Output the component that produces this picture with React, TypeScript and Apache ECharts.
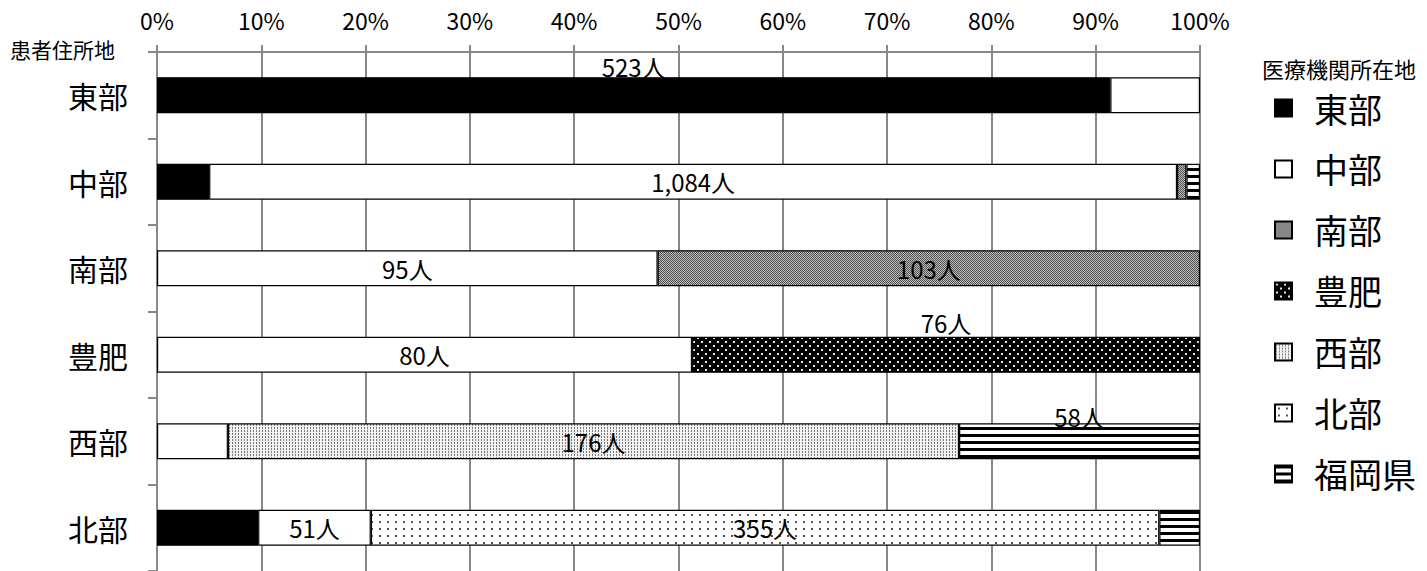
import React, { useEffect, useRef } from "react";
import * as echarts from "echarts";

// Patient residence (rows, top to bottom)
const residenceAreas = ["東部", "中部", "南部", "豊肥", "西部", "北部"];
// Medical institution location (stack segments)
const facilityAreas = ["東部", "中部", "南部", "豊肥", "西部", "北部", "福岡県"];

// Share (%) of patients per facility area, one array per facility area, aligned with residenceAreas
const shareToubu = [91.4, 5.0, null, null, null, 9.7];
const shareChubu = [8.6, 92.8, 48.0, 51.3, 6.8, 10.8];
const shareNanbu = [null, 0.9, 52.0, null, null, null];
const shareHohi = [null, null, null, 48.7, null, null];
const shareSeibu = [null, null, null, null, 70.1, null];
const shareHokubu = [null, null, null, null, null, 75.6];
const shareFukuoka = [null, 1.3, null, null, 23.1, 3.9];

// Patient count labels shown on segments
const countToubu = ["523人", "", "", "", "", ""];
const countChubu = ["", "1,084人", "95人", "80人", "", "51人"];
const countNanbu = ["", "", "103人", "", "", ""];
const countHohi = ["", "", "", "76人", "", ""];
const countSeibu = ["", "", "", "", "176人", ""];
const countHokubu = ["", "", "", "", "", "355人"];
const countFukuoka = ["", "", "", "", "58人", ""];

const shares = [shareToubu, shareChubu, shareNanbu, shareHohi, shareSeibu, shareHokubu, shareFukuoka];
const counts = [countToubu, countChubu, countNanbu, countHohi, countSeibu, countHokubu, countFukuoka];

// label placement (style): segments whose label sits above the bar
const labelAbove: Record<string, number> = { "0|0": -1, "3|3": 2, "6|4": -5 };

const FONT = "'Noto Sans CJK JP', 'Noto Sans', sans-serif";

function tile(w: number, h: number, draw: (ctx: CanvasRenderingContext2D) => void) {
  const c = document.createElement("canvas");
  c.width = w;
  c.height = h;
  const ctx = c.getContext("2d")!;
  draw(ctx);
  return { image: c, repeat: "repeat", imageWidth: w, imageHeight: h } as any;
}

function makeFills() {
  const black = "#000000";
  const white = "#ffffff";
  const checker = tile(2, 2, (ctx) => {
    ctx.fillStyle = "#bdbdbd";
    ctx.fillRect(0, 0, 2, 2);
    ctx.fillStyle = "#505050";
    ctx.fillRect(0, 0, 1, 1);
    ctx.fillRect(1, 1, 1, 1);
  });
  const blackDots = tile(8, 8, (ctx) => {
    ctx.fillStyle = "#000";
    ctx.fillRect(0, 0, 8, 8);
    ctx.fillStyle = "#e6e6e6";
    ctx.fillRect(1, 1, 2, 2);
    ctx.fillRect(5, 5, 2, 2);
  });
  const denseDots = tile(3, 3, (ctx) => {
    ctx.fillStyle = "#f2f2f2";
    ctx.fillRect(0, 0, 3, 3);
    ctx.fillStyle = "#7a7a7a";
    ctx.fillRect(1, 1, 1, 2);
  });
  const sparseDots = tile(8, 7, (ctx) => {
    ctx.fillStyle = "#fff";
    ctx.fillRect(0, 0, 8, 7);
    ctx.fillStyle = "#555";
    ctx.fillRect(3, 3, 2, 2);
  });
  const stripes = tile(4, 7, (ctx) => {
    ctx.fillStyle = "#fff";
    ctx.fillRect(0, 0, 4, 7);
    ctx.fillStyle = "#000";
    ctx.fillRect(0, 0, 4, 3);
  });
  return [black, white, checker, blackDots, denseDots, sparseDots, stripes];
}

export default function App() {
  const ref = useRef<HTMLDivElement>(null);

  useEffect(() => {
    if (!ref.current) return;
    const chart = echarts.init(ref.current, undefined, { renderer: "svg" });
    const fills = makeFills();

    const series = facilityAreas.map((name, si) => ({
      name,
      type: "bar",
      stack: "total",
      barWidth: 36,
      itemStyle: { color: fills[si], borderColor: "#000", borderWidth: 1.2 },
      data: shares[si].map((v, ri) => {
        const txt = counts[si][ri];
        const key = `${si}|${ri}`;
        const above = key in labelAbove;
        return {
          value: v === null ? "-" : v,
          label: {
            show: !!txt && v !== null,
            formatter: txt,
            position: above ? "top" : "inside",
            distance: above ? labelAbove[key] : 5,
            color: "#000",
            fontSize: 24,
            fontFamily: FONT,
          },
        };
      }),
    }));

    chart.setOption({
      animation: false,
      backgroundColor: "#fff",
      grid: { left: 157, right: 227, top: 52, bottom: 0, containLabel: false },
      xAxis: {
        type: "value",
        position: "top",
        min: 0,
        max: 100,
        interval: 10,
        axisLabel: {
          formatter: "{value}%",
          fontSize: 23,
          color: "#000",
          margin: 21,
          fontFamily: FONT,
        },
        axisLine: { show: true, lineStyle: { color: "#888", width: 2 } },
        axisTick: { show: true, length: 7, lineStyle: { color: "#888", width: 2 } },
        splitLine: { show: true, lineStyle: { color: "#888", width: 2 } },
      },
      yAxis: {
        type: "category",
        inverse: true,
        data: residenceAreas,
        axisLabel: { fontSize: 30, color: "#000", margin: 29, fontFamily: FONT },
        axisLine: { show: true, lineStyle: { color: "#888", width: 2 } },
        axisTick: { show: true, length: 9, lineStyle: { color: "#888", width: 2 } },
        splitLine: { show: false },
      },
      legend: {
        orient: "vertical",
        left: 1269,
        top: 86,
        itemWidth: 17,
        itemHeight: 17,
        itemGap: 27,
        icon: "rect",
        data: facilityAreas,
        textStyle: {
          fontSize: 34,
          color: "#000",
          fontFamily: FONT,
          padding: [0, 0, 0, 17],
        },
      },
      graphic: [
        {
          type: "text",
          left: 10,
          top: 38,
          style: { text: "患者住所地", fontSize: 21, fill: "#000", fontFamily: FONT },
        },
        {
          type: "text",
          left: 1262,
          top: 57,
          style: { text: "医療機関所在地", fontSize: 22, fill: "#000", fontFamily: FONT },
        },
      ],
      series,
    });

    return () => chart.dispose();
  }, []);

  return (
    <div
      ref={ref}
      style={{ position: "absolute", left: 0, top: 0, width: 1427, height: 571, background: "#fff" }}
    />
  );
}
